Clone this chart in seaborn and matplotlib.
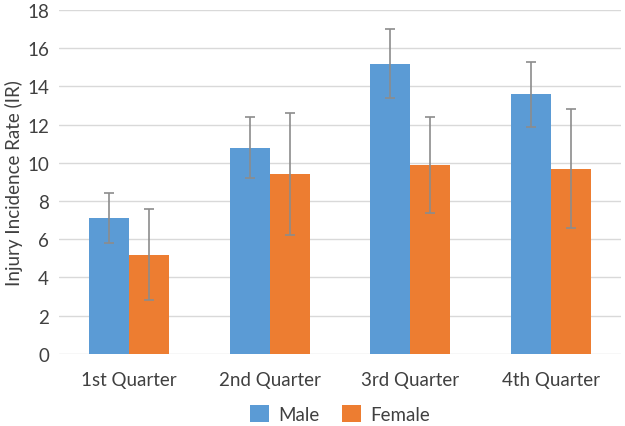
import numpy as np
import pandas as pd
import matplotlib
matplotlib.use("Agg")
import matplotlib.pyplot as plt
import seaborn as sns

# DATA

quarters = ["1st Quarter", "2nd Quarter", "3rd Quarter", "4th Quarter"]
male_ir = [7.1, 10.8, 15.2, 13.6]
female_ir = [5.2, 9.4, 9.9, 9.7]
male_err = [1.3, 1.6, 1.8, 1.7]
female_err = [2.4, 3.2, 2.5, 3.1]

df = pd.DataFrame({
    "Quarter": quarters * 2,
    "Sex": ["Male"] * 4 + ["Female"] * 4,
    "IR": male_ir + female_ir,
    "err": male_err + female_err,
})

# PLOT

sns.set_style("white")
plt.rcParams["font.family"] = ["Lato", "DejaVu Sans"]

fig = plt.figure(figsize=(6.25, 4.27), dpi=100)
ax = fig.add_axes([0.094, 0.169, 0.9, 0.805])

sns.barplot(
    data=df, x="Quarter", y="IR", hue="Sex",
    palette={"Male": "#5B9BD5", "Female": "#ED7D31"},
    errorbar=None, width=0.57, saturation=1, linewidth=0,
    ax=ax, zorder=2
)

# error bars on the bar centres
for cont, sex in zip(ax.containers, ["Male", "Female"]):
    sub = df[df["Sex"] == sex]
    xs = [p.get_x() + p.get_width() / 2 for p in cont.patches]
    ax.errorbar(xs, sub["IR"], yerr=sub["err"], fmt="none",
                ecolor="#8C8C8C", elinewidth=1.2, capsize=3.5,
                capthick=1.2, zorder=3)

ax.set_ylim(0, 18)
ax.set_xlim(-0.5, 3.5)
ax.set_yticks(range(0, 19, 2))
ax.yaxis.grid(True, color="#D9D9D9", linewidth=1)
ax.set_axisbelow(True)
sns.despine(ax=ax, left=True, bottom=True)
ax.tick_params(axis="both", length=0, labelsize=13.5, colors="#404040", pad=7)
ax.tick_params(axis="x", pad=12)
ax.set_xlabel("")
ax.set_ylabel("Injury Incidence Rate (IR)", fontsize=13.5, color="#404040", labelpad=3)

ax.legend(loc="upper center", bbox_to_anchor=(0.5, -0.1), ncol=2,
          frameon=False, fontsize=13.5, handlelength=1.0, handleheight=1.0,
          columnspacing=1.2, handletextpad=0.5, labelcolor="#404040")

fig.savefig("out.png", dpi=100)
